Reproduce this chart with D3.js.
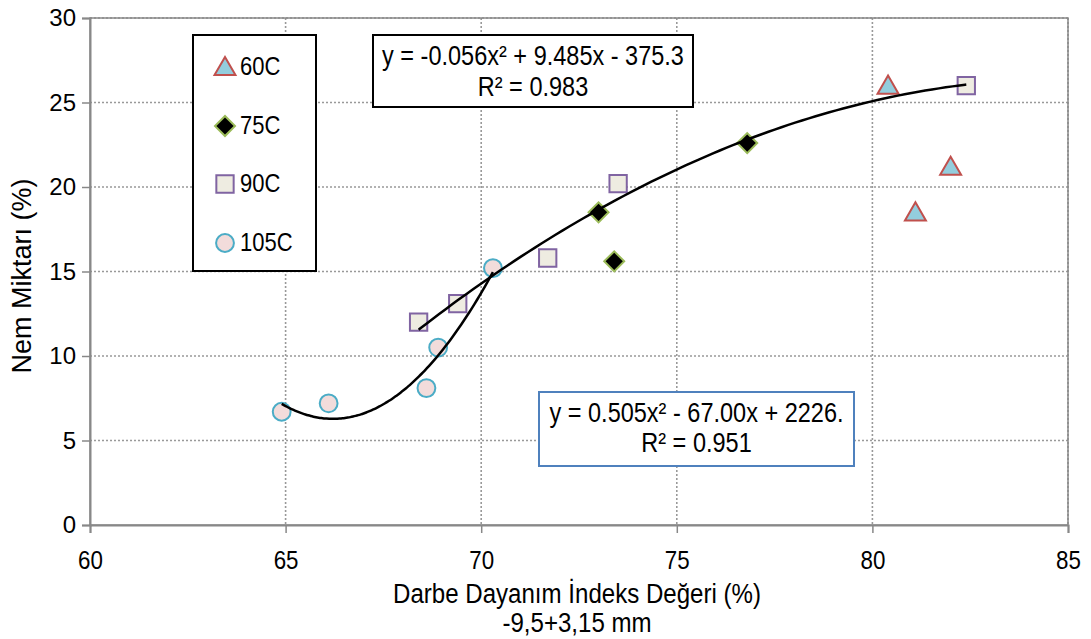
<!DOCTYPE html>
<html>
<head>
<meta charset="utf-8">
<script src="https://cdn.jsdelivr.net/npm/d3@7"></script>
<style>
  body { margin: 0; background: #fff; }
  text { font-family: "Liberation Sans", Arial, sans-serif; fill: #000; }
</style>
</head>
<body>
<script>
// data
var s60 = [[80.4, 26.0], [82.0, 21.2], [81.1, 18.5]];
var s75 = [[73.0, 18.5], [73.4, 15.6], [76.8, 22.6]];
var s90 = [[68.4, 12.0], [69.4, 13.1], [71.7, 15.8], [73.5, 20.2], [82.4, 26.0]];
var s105 = [[64.9, 6.7], [66.1, 7.2], [68.6, 8.1], [68.9, 10.5], [70.3, 15.2]];
var xTicks = [60, 65, 70, 75, 80, 85];
var yTicks = [0, 5, 10, 15, 20, 25, 30];
var legendNames = ['60C', '75C', '90C', '105C'];
var eq1 = ['y = -0.056x\u00b2 + 9.485x - 375.3', 'R\u00b2 = 0.983'];
var eq2 = ['y = 0.505x\u00b2 - 67.00x + 2226.', 'R\u00b2 = 0.951'];

var svg = d3.select('body').append('svg')
    .attr('width', 1091)
    .attr('height', 639);

var x = d3.scaleLinear().domain([60, 85]).range([90, 1068]);
var y = d3.scaleLinear().domain([0, 30]).range([525, 18]);

// narrow looking text: squeeze horizontally
function ntext(tx, ty, str, size, sx, anchor) {
    return svg.append('text')
        .attr('transform', 'translate(' + tx + ',' + ty + ') scale(' + sx + ',1)')
        .attr('text-anchor', anchor || 'middle')
        .attr('font-size', size)
        .text(str);
}

// gridlines
svg.append('g').selectAll('line').data(yTicks.slice(1)).enter().append('line')
    .attr('x1', 90).attr('x2', 1068)
    .attr('y1', d => y(d)).attr('y2', d => y(d))
    .attr('stroke', '#999').attr('stroke-width', 1.6).attr('stroke-dasharray', '2,2');
svg.append('g').selectAll('line').data(xTicks.slice(1)).enter().append('line')
    .attr('x1', d => x(d)).attr('x2', d => x(d))
    .attr('y1', 18).attr('y2', 525)
    .attr('stroke', '#999').attr('stroke-width', 1.6).attr('stroke-dasharray', '2,2');

// plot frame
svg.append('rect')
    .attr('x', 90).attr('y', 18).attr('width', 978).attr('height', 507)
    .attr('fill', 'none').attr('stroke', '#888').attr('stroke-width', 1.5);

// axes
var yAxis = svg.append('g').attr('transform', 'translate(90,0)')
    .call(d3.axisLeft(y).tickValues(yTicks).tickSize(8).tickPadding(6));
var xAxis = svg.append('g').attr('transform', 'translate(0,525)')
    .call(d3.axisBottom(x).tickValues(xTicks).tickSize(8).tickPadding(18));
[yAxis, xAxis].forEach(function(a) {
    a.select('.domain').attr('stroke', '#888').attr('stroke-width', 2);
    a.selectAll('.tick line').attr('stroke', '#888').attr('stroke-width', 1.5);
});
yAxis.selectAll('.tick text')
    .attr('font-size', 24)
    .attr('font-family', '"Liberation Sans", Arial, sans-serif')
    .attr('fill', '#000');
xAxis.selectAll('.tick text')
    .attr('font-size', 26)
    .attr('font-family', '"Liberation Sans", Arial, sans-serif')
    .attr('transform', 'scale(0.86,1)')
    .attr('fill', '#000');

// axis titles
svg.append('text')
    .attr('transform', 'translate(31,276) rotate(-90)')
    .attr('text-anchor', 'middle')
    .attr('font-size', 27)
    .text('Nem Miktarı (%)');
ntext(577, 603, 'Darbe Dayanım İndeks Değeri (%)', 28, 0.86);
ntext(577, 632, '-9,5+3,15 mm', 28, 0.86);

// marker shapes
var styles = [
    { sym: d3.symbolTriangle, size: 190, rot: 0, fill: '#93CDDD', stroke: '#C0504D', dy: 2 },
    { sym: d3.symbolSquare, size: 200, rot: 45, fill: '#000', stroke: '#9BBB59', dy: 0 },
    { sym: d3.symbolSquare, size: 300, rot: 0, fill: '#EEECE1', stroke: '#8064A2', dy: 0 },
    { sym: d3.symbolCircle, size: 250, rot: 0, fill: '#F2DCDB', stroke: '#4BACC6', dy: 0 }
];
var series = [s60, s75, s90, s105];

function drawMarker(g, st, px, py) {
    g.append('path')
        .attr('d', d3.symbol().type(st.sym).size(st.size))
        .attr('transform', 'translate(' + px + ',' + (py + st.dy) + ') rotate(' + st.rot + ')')
        .attr('fill', st.fill).attr('stroke', st.stroke).attr('stroke-width', 2);
}
series.forEach(function(pts, i) {
    var g = svg.append('g');
    pts.forEach(function(d) { drawMarker(g, styles[i], x(d[0]), y(d[1])); });
});

// least squares quadratic trendlines
function quadFit(pts) {
    var S = [0, 0, 0, 0, 0], T = [0, 0, 0];
    pts.forEach(function(p) {
        for (var k = 0; k < 5; k++) S[k] += Math.pow(p[0], k);
        for (var k2 = 0; k2 < 3; k2++) T[k2] += Math.pow(p[0], k2) * p[1];
    });
    var A = [[S[0], S[1], S[2], T[0]], [S[1], S[2], S[3], T[1]], [S[2], S[3], S[4], T[2]]];
    for (var c = 0; c < 3; c++) {
        for (var r = c + 1; r < 3; r++) {
            var f = A[r][c] / A[c][c];
            for (var k3 = c; k3 < 4; k3++) A[r][k3] -= f * A[c][k3];
        }
    }
    var b = [0, 0, 0];
    for (var r2 = 2; r2 >= 0; r2--) {
        var s = A[r2][3];
        for (var k4 = r2 + 1; k4 < 3; k4++) s -= A[r2][k4] * b[k4];
        b[r2] = s / A[r2][r2];
    }
    return b;
}
function trend(pts) {
    var b = quadFit(pts);
    var xs = pts.map(d => d[0]);
    var lo = d3.min(xs), hi = d3.max(xs);
    var line = [];
    for (var i = 0; i <= 80; i++) {
        var xv = lo + (hi - lo) * i / 80;
        line.push([xv, b[0] + b[1] * xv + b[2] * xv * xv]);
    }
    svg.append('path')
        .attr('d', d3.line().x(d => x(d[0])).y(d => y(d[1])).curve(d3.curveBasis)(line))
        .attr('fill', 'none').attr('stroke', '#000').attr('stroke-width', 2.5);
}
trend(s90);
trend(s105);

// legend
svg.append('rect')
    .attr('x', 193).attr('y', 35).attr('width', 123).attr('height', 236)
    .attr('fill', '#fff').attr('stroke', '#000').attr('stroke-width', 2);
var legY = [67, 126, 184, 243];
var lg = svg.append('g');
legendNames.forEach(function(name, i) {
    drawMarker(lg, styles[i], 225, legY[i]);
    ntext(240, legY[i] + 8, name, 25, 0.88, 'start');
});

// equation boxes
function eqBox(bx, by, bw, bh, col, lines, y1, y2) {
    svg.append('rect')
        .attr('x', bx).attr('y', by).attr('width', bw).attr('height', bh)
        .attr('fill', '#fff').attr('stroke', col).attr('stroke-width', 2);
    ntext(bx + bw / 2, y1, lines[0], 28, 0.84);
    ntext(bx + bw / 2, y2, lines[1], 28, 0.84);
}
eqBox(373, 35, 320, 72, '#000', eq1, 65, 96);
eqBox(539, 392, 315, 74, '#4F81BD', eq2, 422, 452);
</script>
</body>
</html>
